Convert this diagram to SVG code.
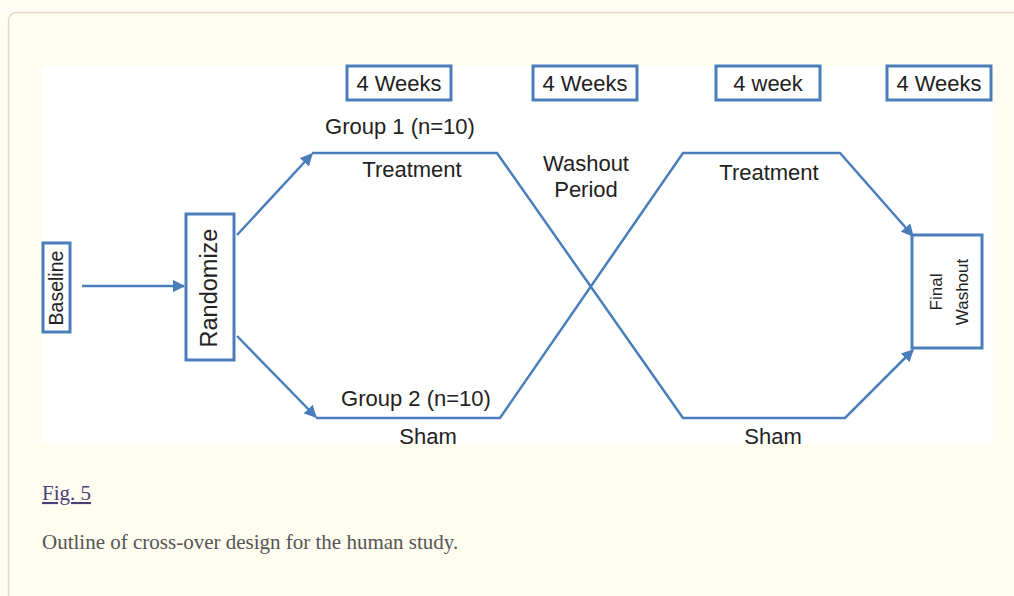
<svg xmlns="http://www.w3.org/2000/svg" width="1014" height="596" viewBox="0 0 1014 596">
<defs>
<style>
.box{fill:#fff;stroke:#4a7ebb;stroke-width:3}
.wk{fill:#fff;stroke:#4a7ebb;stroke-width:3}
.ln{fill:none;stroke:#4a7ebb;stroke-width:2.5}
.t{font-family:"Liberation Sans",Arial,sans-serif;fill:#222;text-anchor:middle}
.cap{font-family:"Liberation Serif","Times New Roman",serif;font-size:21px}
</style>
<marker id="ah" viewBox="0 0 10 10" refX="9" refY="5" markerWidth="5" markerHeight="5" orient="auto" markerUnits="strokeWidth">
<path d="M0,0 L10,5 L0,10 z" fill="#4a7ebb"/>
</marker>
</defs>
<rect x="0" y="0" width="1014" height="596" fill="#fffdf3"/>
<rect x="8.5" y="12.5" width="1030" height="620" rx="8" fill="#fffcf0" stroke="#e6d6c6" stroke-width="1.5"/>
<rect x="42" y="66" width="951" height="377" fill="#ffffff"/>

<g id="weeks">
<g id="w1"><rect class="wk" x="347" y="66" width="104" height="34"/><text class="t" x="399" y="91" font-size="22">4 Weeks</text></g>
<g id="w2"><rect class="wk" x="533" y="66" width="104" height="34"/><text class="t" x="585" y="91" font-size="22">4 Weeks</text></g>
<g id="w3"><rect class="wk" x="716" y="66" width="104" height="34"/><text class="t" x="768" y="91" font-size="22">4 week</text></g>
<g id="w4"><rect class="wk" x="887" y="66" width="104" height="34"/><text class="t" x="939" y="91" font-size="22">4 Weeks</text></g>
</g>

<g id="connectors">
<line class="ln" x1="82" y1="286" x2="184" y2="286" marker-end="url(#ah)"/>
<line class="ln" x1="237" y1="235" x2="312" y2="154" marker-end="url(#ah)"/>
<line class="ln" x1="237" y1="336" x2="316" y2="417" marker-end="url(#ah)"/>
<polyline class="ln" points="312,153 497,153 683,418 845,418 913,350" marker-end="url(#ah)"/>
<polyline class="ln" points="316,418 500,418 683,153 840,153 913,236" marker-end="url(#ah)"/>
</g>

<g id="baseline"><rect class="box" x="43" y="243" width="27" height="89"/><text class="t" transform="translate(63,288) rotate(-90)" font-size="19.5">Baseline</text></g>
<g id="randomize"><rect class="box" x="186" y="214" width="48" height="146"/><text class="t" transform="translate(217,288) rotate(-90)" font-size="23.5">Randomize</text></g>
<g id="final"><rect class="box" x="912" y="235" width="70" height="113"/><text class="t" transform="translate(942,292) rotate(-90)" font-size="17">Final</text><text class="t" transform="translate(968,292) rotate(-90)" font-size="17">Washout</text></g>

<g id="labels">
<text class="t" x="400" y="134" font-size="22">Group 1 (n=10)</text>
<text class="t" x="412" y="177" font-size="22">Treatment</text>
<text class="t" x="586" y="171" font-size="22">Washout</text>
<text class="t" x="586" y="197" font-size="22">Period</text>
<text class="t" x="769" y="180" font-size="22">Treatment</text>
<text class="t" x="416" y="406" font-size="22">Group 2 (n=10)</text>
<text class="t" x="428" y="444" font-size="22">Sham</text>
<text class="t" x="773" y="444" font-size="22">Sham</text>
</g>

<g id="caption">
<text class="cap" x="42" y="500" fill="#4b3f7a" text-decoration="underline">Fig. 5</text>
<text class="cap" x="42" y="549" fill="#555">Outline of cross-over design for the human study.</text>
</g>
</svg>
